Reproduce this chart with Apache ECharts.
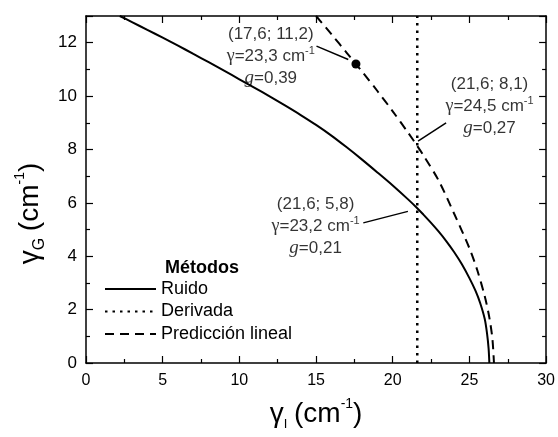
<!DOCTYPE html>
<html>
<head>
<meta charset="utf-8">
<script src="https://cdn.jsdelivr.net/npm/echarts@6/dist/echarts.min.js"></script>
<style>html,body{margin:0;padding:0;background:#fff;}#c{width:558px;height:437px;}</style>
</head>
<body>
<div id="c"></div>
<script>
// ---- data ----
const ruidoX = [2.2, 3, 4, 5, 6, 7, 8, 9, 10, 11, 12, 13, 14, 15, 16, 17, 18, 19, 20, 21, 21.6, 22, 22.5, 23, 23.5, 24, 24.5, 25, 25.4, 25.7, 26.0, 26.15, 26.25, 26.3];
const ruidoY = [13.0, 12.77, 12.48, 12.19, 11.89, 11.58, 11.27, 10.95, 10.63, 10.31, 9.98, 9.64, 9.29, 8.92, 8.52, 8.08, 7.62, 7.14, 6.65, 6.13, 5.80, 5.56, 5.25, 4.92, 4.56, 4.16, 3.71, 3.18, 2.70, 2.25, 1.65, 1.1, 0.55, 0.0];
const prediccionX = [15.0, 16.0, 17.0, 17.6, 18.0, 19.0, 20.0, 21.0, 21.6, 22.0, 23.0, 24.0, 25.0, 25.5, 26.0, 26.3, 26.5, 26.6];
const prediccionY = [13.0, 12.32, 11.62, 11.2, 10.92, 10.19, 9.43, 8.63, 8.13, 7.78, 6.83, 5.6, 4.3, 3.5, 2.5, 1.7, 0.9, 0.0];
const derivadaX = 21.6;
const derivadaYRange = [0, 13];
const seriesNames = ['Ruido', 'Derivada', 'Predicción lineal'];
const legendTitle = 'Métodos';
const markedPoint = [17.6, 11.2];
// annotation anchors (data coords) and texts
const annotAnchors = [[12.05, 11.5], [26.31, 9.62], [14.97, 5.12]];
const annotCoords = ['(17,6; 11,2)', '(21,6; 8,1)', '(21,6; 5,8)'];
const annotGamma = ['23,3', '24,5', '23,2'];
const annotG = ['0,39', '0,27', '0,21'];
// arrows: [start, end] in data coords
const arrows = [
  [[15.03, 11.87], [17.1, 11.37]],
  [[23.48, 9.0], [21.65, 8.31]],
  [[18.08, 5.25], [20.99, 5.68]]
];
const xTicks = {min: 0, max: 30, interval: 5};
const yTicks = {min: 0, max: 13, interval: 2};

const SANS = 'Liberation Sans, Arial, sans-serif';
const SERIF = 'Liberation Serif, Times New Roman, serif';

const zip = (xs, ys) => xs.map((x, i) => [x, ys[i]]);

const chart = echarts.init(document.getElementById('c'), null, {renderer: 'canvas'});

const axisCommon = {
  axisLine: {show: true, onZero: false, lineStyle: {color: '#000', width: 1.5}},
  axisTick: {show: true, inside: true, length: 7, lineStyle: {color: '#000', width: 1.2}},
  minorTick: {show: true, splitNumber: 2, length: 4, lineStyle: {color: '#000', width: 1.2}},
  splitLine: {show: false}
};

const annotData = annotAnchors.map((p, i) => ({
  value: p,
  label: {
    formatter: '{a|' + annotCoords[i] + '}\n{gs|γ}{a|=' + annotGamma[i] + ' cm}{sup|-1}\n{gi|g}{a|=' + annotG[i] + '}'
  }
}));

const option = {
  backgroundColor: '#fff',
  animation: false,
  title: {
    text: legendTitle,
    left: 160, top: 254,
    textStyle: {fontFamily: SANS, fontSize: 18, fontWeight: 'bold', color: '#000'}
  },
  legend: {
    data: seriesNames,
    orient: 'vertical',
    left: 104, top: 280,
    itemWidth: 51, itemHeight: 14, itemGap: 4.5,
    padding: 0,
    itemStyle: {opacity: 0},
    textStyle: {fontFamily: SANS, fontSize: 18, color: '#000', lineHeight: 18},
    selectedMode: false
  },
  grid: {left: 86, right: 9, top: 16, bottom: 74, containLabel: false},
  xAxis: [
    Object.assign({}, axisCommon, {
      type: 'value', position: 'bottom', min: xTicks.min, max: xTicks.max, interval: xTicks.interval,
      axisLabel: {fontFamily: SANS, fontSize: 16, color: '#000', margin: 10},
      name: '{g|γ}{sub|I}  {t|(cm}{sup|-1}{t|)}',
      nameLocation: 'middle', nameGap: 34,
      nameTextStyle: {
        color: '#000',
        rich: {
          g: {fontFamily: SANS, fontSize: 28, color: '#000', lineHeight: 34},
          sub: {fontFamily: SANS, fontSize: 13, color: '#000', verticalAlign: 'bottom', lineHeight: 20},
          t: {fontFamily: SANS, fontSize: 28, color: '#000', lineHeight: 34},
          sup: {fontFamily: SANS, fontSize: 14, color: '#000', verticalAlign: 'top', lineHeight: 22}
        }
      }
    }),
    Object.assign({}, axisCommon, {
      type: 'value', position: 'top', min: xTicks.min, max: xTicks.max, interval: xTicks.interval,
      axisLabel: {show: false}
    })
  ],
  yAxis: [
    Object.assign({}, axisCommon, {
      type: 'value', position: 'left', min: yTicks.min, max: yTicks.max, interval: yTicks.interval,
      axisLabel: {fontFamily: SANS, fontSize: 17, color: '#000', margin: 9, showMaxLabel: false},
      name: '{g|γ}{sub|G}  {t|(cm}{sup|-1}{t|)}',
      nameLocation: 'middle', nameGap: 38, nameRotate: 90,
      nameTextStyle: {
        color: '#000',
        padding: [0, 48, 0, 0],
        rich: {
          g: {fontFamily: SANS, fontSize: 28, color: '#000', lineHeight: 34},
          sub: {fontFamily: SANS, fontSize: 16, color: '#000', verticalAlign: 'bottom', lineHeight: 22},
          t: {fontFamily: SANS, fontSize: 28, color: '#000', lineHeight: 34},
          sup: {fontFamily: SANS, fontSize: 14, color: '#000', verticalAlign: 'top', lineHeight: 22}
        }
      }
    }),
    Object.assign({}, axisCommon, {
      type: 'value', position: 'right', min: yTicks.min, max: yTicks.max, interval: yTicks.interval,
      axisLabel: {show: false}
    })
  ],
  series: [
    {
      name: seriesNames[0], type: 'line', xAxisIndex: 0, yAxisIndex: 0,
      data: zip(ruidoX, ruidoY), symbol: 'none', showSymbol: false, smooth: 0.3,
      lineStyle: {color: '#000', width: 2, type: 'solid'},
      itemStyle: {color: '#000'}
    },
    {
      name: seriesNames[1], type: 'line', xAxisIndex: 0, yAxisIndex: 0,
      data: [[derivadaX, derivadaYRange[0]], [derivadaX, derivadaYRange[1]]], symbol: 'none', showSymbol: false,
      lineStyle: {color: '#000', width: 2.5, type: [2.5, 5]},
      itemStyle: {color: '#000'}
    },
    {
      name: seriesNames[2], type: 'line', xAxisIndex: 0, yAxisIndex: 0,
      data: zip(prediccionX, prediccionY), symbol: 'none', showSymbol: false, smooth: 0.3,
      lineStyle: {color: '#000', width: 2, type: [9, 6]},
      itemStyle: {color: '#000'}
    },
    {
      name: 'punto', type: 'scatter', xAxisIndex: 0, yAxisIndex: 0,
      data: [markedPoint], symbol: 'circle', symbolSize: 9,
      itemStyle: {color: '#000', opacity: 1},
      markLine: {
        silent: true,
        symbol: ['none', 'arrow'], symbolSize: [0, 11],
        label: {show: false},
        lineStyle: {color: '#000', width: 1.5, type: 'solid'},
        data: arrows.map(a => [{coord: a[0]}, {coord: a[1]}])
      }
    },
    {
      name: 'anotaciones', type: 'scatter', xAxisIndex: 0, yAxisIndex: 0,
      data: annotData, symbolSize: 0, silent: true,
      label: {
        show: true, position: 'inside', align: 'center', verticalAlign: 'middle',
        rich: {
          a: {fontFamily: SANS, fontSize: 17, color: '#000', lineHeight: 22},
          gs: {fontFamily: SERIF, fontSize: 18, color: '#000', lineHeight: 22},
          gi: {fontFamily: SERIF, fontSize: 19, fontStyle: 'italic', color: '#000', lineHeight: 22},
          sup: {fontFamily: SANS, fontSize: 11, color: '#000', verticalAlign: 'top', lineHeight: 22}
        }
      }
    }
  ]
};
chart.setOption(option);
</script>
</body>
</html>
